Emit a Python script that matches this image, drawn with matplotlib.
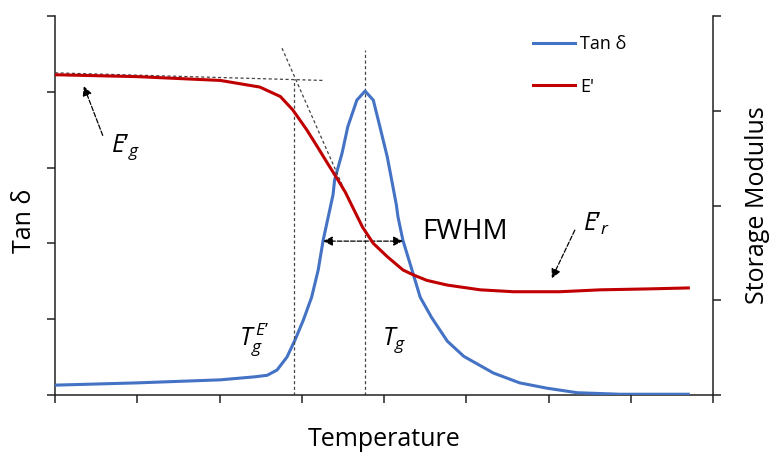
import matplotlib
matplotlib.use("Agg")
import matplotlib.pyplot as plt
import numpy as np

plt.rcParams["font.family"] = ["Open Sans", "DejaVu Sans"]
plt.rcParams["mathtext.fontset"] = "custom"
plt.rcParams["mathtext.rm"] = "Open Sans"
plt.rcParams["mathtext.it"] = "Open Sans:italic"

# Tan delta curve (left axis)
tan_x = [0, 10.0, 20.1, 24.3, 25.8, 27.0, 28.2, 29.2, 30.2, 31.2, 32.0, 32.6,
         33.4, 33.8, 34.0, 34.9, 35.6, 36.7, 37.7, 38.7, 39.5, 40.4, 41.1,
         41.5, 41.7, 42.3, 43.4, 44.4, 45.8, 47.7, 49.7, 53.3, 56.5, 59.8,
         63.5, 68.7, 77.0]
tan_y = [0.13, 0.16, 0.20, 0.24, 0.26, 0.33, 0.50, 0.73, 0.99, 1.29, 1.65, 2.04,
         2.44, 2.64, 2.84, 3.19, 3.54, 3.89, 4.01, 3.89, 3.54, 3.14, 2.74,
         2.51, 2.35, 2.04, 1.65, 1.29, 1.02, 0.71, 0.51, 0.29, 0.16, 0.09,
         0.03, 0.01, 0.01]

# storage modulus curve (right axis)
mod_x = [0, 10.0, 20.1, 24.9, 27.4, 28.9, 30.6, 31.9, 33.1, 34.4, 35.3, 36.2,
         37.4, 38.7, 40.4, 42.3, 43.5, 45.2, 47.7, 51.7, 55.7, 61.4, 66.3,
         72.3, 77.0]
mod_y = [3.38, 3.36, 3.32, 3.25, 3.15, 3.01, 2.80, 2.62, 2.45, 2.27, 2.14, 1.98,
         1.77, 1.60, 1.46, 1.32, 1.27, 1.21, 1.16, 1.11, 1.09, 1.09, 1.11,
         1.12, 1.13]

# construction lines
glassy_tangent_x = [0, 32.6]
glassy_tangent_y = [3.40, 3.32]
drop_tangent_x = [27.6, 35.0]
drop_tangent_y = [3.66, 2.20]
tg_onset = 29.1
tg_onset_top = 3.33
tg_peak = 37.7
tg_peak_top = 4.55
fwhm_left, fwhm_right, fwhm_level = 32.6, 42.3, 2.03

blue = "#4472C4"
red = "#C00000"
dark = "#222222"

fig = plt.figure(figsize=(7.71, 4.53), dpi=100)
ax = fig.add_axes([55 / 771, (453 - 395) / 453, 658 / 771, 379 / 453])
ax2 = ax.twinx()

ax.set_xlim(0, 80)
ax.set_ylim(0, 5)
ax2.set_ylim(0, 4)

h1, = ax.plot(tan_x, tan_y, color=blue, lw=2.2, label="Tan δ", zorder=3)
h2, = ax2.plot(mod_x, mod_y, color=red, lw=2.2, label="E'", zorder=3)

dash = dict(color="#444444", lw=0.9, ls=(0, (2.5, 2)))
ax2.plot(glassy_tangent_x, glassy_tangent_y, **dash)
ax2.plot(drop_tangent_x, drop_tangent_y, **dash)
ax2.plot([tg_onset, tg_onset], [0, tg_onset_top], **dash)
ax.plot([tg_peak, tg_peak], [0, tg_peak_top], **dash)

ax.annotate("", xy=(fwhm_left, fwhm_level), xytext=(fwhm_right, fwhm_level),
            arrowprops=dict(arrowstyle="<|-|>", color="black", lw=0.9,
                            ls="--", mutation_scale=14, shrinkA=0, shrinkB=0))
ax.text(44.6, 1.97, "FWHM", fontsize=20, ha="left", va="bottom")

ax2.annotate("", xy=(3.5, 3.26), xytext=(5.8, 2.74),
             arrowprops=dict(arrowstyle="-|>", color="black", lw=0.9,
                             ls="--", mutation_scale=14, shrinkA=0, shrinkB=0))
ax2.text(6.8, 2.62, "$E’_g$", fontsize=18, ha="left", va="center")

ax2.annotate("", xy=(60.4, 1.23), xytext=(63.2, 1.74),
             arrowprops=dict(arrowstyle="-|>", color="black", lw=0.9,
                             ls="--", mutation_scale=14, shrinkA=0, shrinkB=0))
ax2.text(64.2, 1.81, "$E’_r$", fontsize=18, ha="left", va="center")

ax.text(22.4, 0.72, "$T_g^{\\,E’}$", fontsize=18, ha="left", va="center")
ax.text(39.8, 0.72, "$T_g$", fontsize=18, ha="left", va="center")

for a in (ax, ax2):
    a.spines["top"].set_visible(False)
    for s in a.spines.values():
        s.set_linewidth(1.1)
        s.set_color(dark)
ax.spines["right"].set_visible(False)
ax2.spines["left"].set_visible(False)
ax2.spines["bottom"].set_visible(False)

ax.set_xticks(np.arange(0, 81, 10))
ax.set_yticks(np.arange(0, 6, 1))
ax2.set_yticks(np.arange(0, 5, 1))
ax.tick_params(direction="out", length=6, width=1.1, color=dark,
               labelbottom=False, labelleft=False)
ax2.tick_params(direction="out", length=6, width=1.1, color=dark,
                labelright=False)

ax.set_xlabel("Temperature", fontsize=18)
ax.xaxis.set_label_coords(0.5, -0.085)
ax.set_ylabel("Tan δ", fontsize=18)
ax.yaxis.set_label_coords(-0.028, 0.46)
ax2.set_ylabel("Storage Modulus", fontsize=18)
ax2.yaxis.set_label_coords(1.049, 0.5)

fig.legend(handles=[h1, h2], loc="upper left",
           bbox_to_anchor=(517 / 771, 1 - 19 / 453), frameon=False,
           fontsize=13, handlelength=2.3, handletextpad=0.3,
           labelspacing=1.35)

fig.savefig("out.png", dpi=100)
